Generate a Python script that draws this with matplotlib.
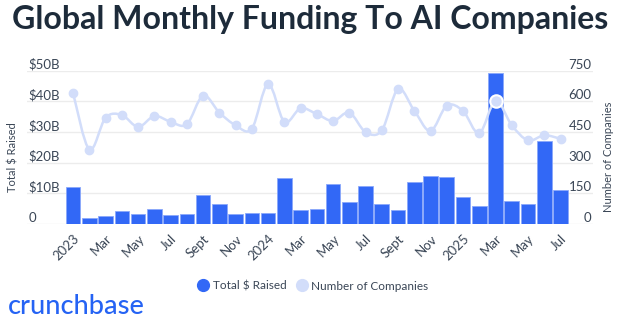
import matplotlib
matplotlib.use("Agg")
import matplotlib.pyplot as plt
import numpy as np
from matplotlib.lines import Line2D
from matplotlib.path import Path
from matplotlib.patches import PathPatch

# Monthly AI funding, Jan 2023 - Jul 2025
months = ['Jan 2023', 'Feb 2023', 'Mar 2023', 'Apr 2023', 'May 2023', 'Jun 2023',
          'Jul 2023', 'Aug 2023', 'Sep 2023', 'Oct 2023', 'Nov 2023', 'Dec 2023',
          'Jan 2024', 'Feb 2024', 'Mar 2024', 'Apr 2024', 'May 2024', 'Jun 2024',
          'Jul 2024', 'Aug 2024', 'Sep 2024', 'Oct 2024', 'Nov 2024', 'Dec 2024',
          'Jan 2025', 'Feb 2025', 'Mar 2025', 'Apr 2025', 'May 2025', 'Jun 2025',
          'Jul 2025']
raised_b = [12.2, 2.0, 2.6, 4.1, 3.4, 5.0, 2.8, 3.2, 9.3, 6.6, 3.3, 3.6,
            3.6, 14.9, 4.5, 4.8, 13.2, 7.2, 12.4, 6.4, 4.5, 13.6, 15.7, 15.4,
            8.7, 5.9, 49.4, 7.5, 6.4, 27.0, 11.1]
companies = [639, 364, 520, 533, 475, 528, 500, 488, 628, 545, 483, 466,
             685, 500, 566, 538, 504, 545, 450, 458, 660, 554, 455, 579,
             553, 444, 603, 483, 409, 434, 417]
highlight = 'Mar 2025'

tick_labels = ['2023', 'Mar', 'May', 'Jul', 'Sept', 'Nov',
               '2024', 'Mar', 'May', 'Jul', 'Sept', 'Nov',
               '2025', 'Mar', 'May', 'Jul']
left_ticks = [0, 10, 20, 30, 40, 50]
left_labels = ['0', '$10B', '$20B', '$30B', '$40B', '$50B']
right_ticks = [0, 150, 300, 450, 600, 750]

BAR = '#3268f6'
LINE = '#d2ddfa'
TEXT = '#3a4656'
TITLE = '#1d2b3a'
GRID = '#ececec'

plt.rcParams['font.family'] = ['Lato', 'DejaVu Sans']

fig = plt.figure(figsize=(6.2, 3.22), dpi=100)
W, H = 620, 322
ax = fig.add_axes([27 / W, (H - 224) / H, (593 - 27) / W, (224 - 70.7) / H])
x = np.arange(len(months))

ax.bar(x, raised_b, width=0.9, color=BAR, edgecolor='#8aa8fb', linewidth=0.6, zorder=2)
ax.set_xlim(-2.84, 32.0)
ax.set_ylim(0, 50)
ax.set_yticks(left_ticks)
ax.set_yticklabels(left_labels)
ax.grid(axis='y', color=GRID, linewidth=1)
ax.set_axisbelow(True)
for s in ax.spines.values():
    s.set_visible(False)
ax.tick_params(axis='y', length=0, pad=-1, labelsize=9.5, labelcolor=TEXT)
for lbl in ax.get_yticklabels():
    lbl.set_ha('left')
    lbl.set_va('bottom')

ax.set_xticks(x[::2])
ax.set_xticklabels(tick_labels, rotation=45, ha='right', va='top',
                   rotation_mode='anchor')
ax.tick_params(axis='x', length=0, pad=6, labelsize=9.5, labelcolor=TEXT)

# companies on the secondary axis, smoothed with a Catmull-Rom curve
ax2 = ax.twinx()
ax2.set_ylim(0, 750)
ax2.set_yticks(right_ticks)
for s in ax2.spines.values():
    s.set_visible(False)
ax2.tick_params(axis='y', length=0, pad=-1, labelsize=9.5, labelcolor=TEXT)
for lbl in ax2.get_yticklabels():
    lbl.set_ha('right')
    lbl.set_va('bottom')

pts = np.column_stack([x, companies]).astype(float)
verts = [pts[0]]
codes = [Path.MOVETO]
n = len(pts)
for i in range(n - 1):
    p0 = pts[max(i - 1, 0)]
    p1 = pts[i]
    p2 = pts[i + 1]
    p3 = pts[min(i + 2, n - 1)]
    verts += [p1 + (p2 - p0) / 6, p2 - (p3 - p1) / 6, p2]
    codes += [Path.CURVE4] * 3
ax2.add_patch(PathPatch(Path(verts, codes), facecolor='none', edgecolor=LINE,
                        linewidth=1.8, zorder=3))
ax2.plot(x, companies, linestyle='none', marker='o', markersize=6,
         color=LINE, zorder=4)
hi = months.index(highlight)
ax2.plot(x[hi], companies[hi], linestyle='none', marker='o', markersize=9,
         markerfacecolor=LINE, markeredgecolor='white', markeredgewidth=1.5,
         zorder=5)

fig.text(0.5, (H - 20) / H, 'Global Monthly Funding To AI Companies',
         ha='center', va='center', fontsize=23, fontweight='bold', color=TITLE)
fig.text(13 / W, (H - 157) / H, 'Total $ Raised', rotation=90,
         ha='center', va='center', fontsize=8, color=TEXT)
fig.text(609 / W, (H - 157) / H, 'Number of Companies', rotation=90,
         ha='center', va='center', fontsize=8, color=TEXT)

handles = [
    Line2D([], [], linestyle='none', marker='o', markersize=8.5, color=BAR),
    Line2D([], [], linestyle='none', marker='o', markersize=8.5, color=LINE),
]
fig.legend(handles, ['Total $ Raised', 'Number of Companies'], loc='center',
           bbox_to_anchor=(0.505, (H - 286) / H), ncol=2, frameon=False,
           fontsize=8.5, labelcolor=TEXT, handletextpad=0.3, columnspacing=0.8,
           handlelength=1.0)

fig.text(8 / W, (H - 306) / H, 'crunchbase', ha='left', va='center',
         fontsize=19.5, fontweight='medium', color='#2563f4')

fig.savefig('out.png', dpi=100)
